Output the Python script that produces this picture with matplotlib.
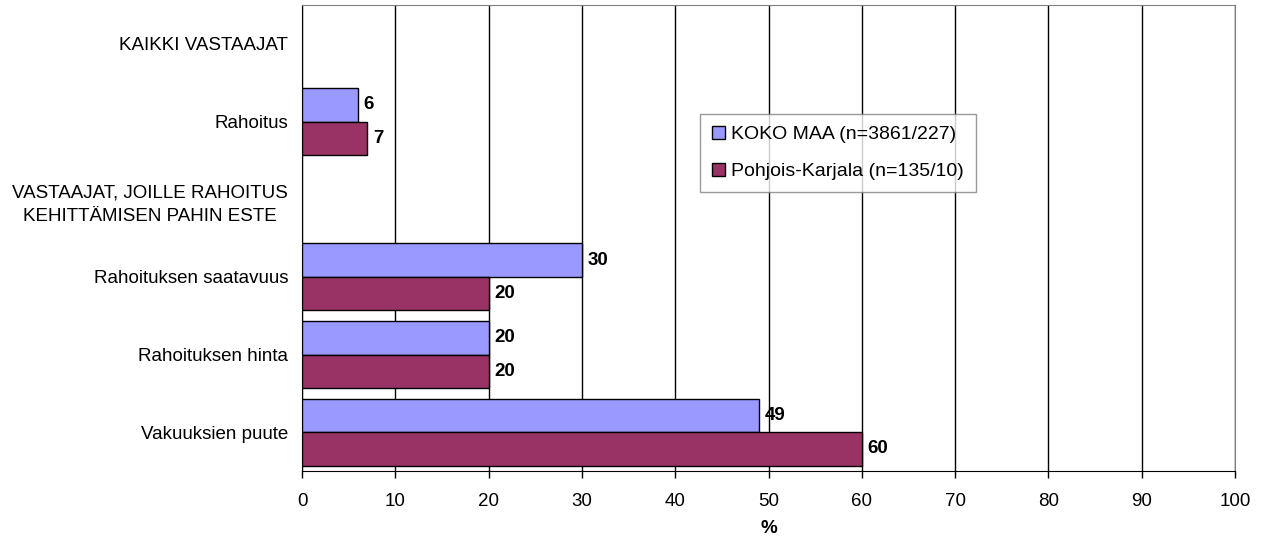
import numpy as np
import matplotlib.pyplot as plt

plt.rcParams['font.family'] = ['Liberation Sans', 'DejaVu Sans']

categories = ["KAIKKI VASTAAJAT", "Rahoitus",
              "VASTAAJAT, JOILLE RAHOITUS\nKEHITTÄMISEN PAHIN ESTE",
              "Rahoituksen saatavuus", "Rahoituksen hinta", "Vakuuksien puute"]
koko_maa = [None, 6, None, 30, 20, 49]
pohjois_karjala = [None, 7, None, 20, 20, 60]
series_names = ["KOKO MAA (n=3861/227)", "Pohjois-Karjala (n=135/10)"]
colors = ["#9999FF", "#993366"]

fs = 13.5
fig = plt.figure(figsize=(12.67, 5.39), dpi=100)
ax = fig.add_axes([302 / 1267, 1 - 471 / 539, 933 / 1267, 466 / 539])

y = np.arange(len(categories))
h = 0.43
for vals, offset, col, name in [(koko_maa, -h / 2, colors[0], series_names[0]),
                                (pohjois_karjala, h / 2, colors[1], series_names[1])]:
    idx = [i for i, v in enumerate(vals) if v is not None]
    v = [vals[i] for i in idx]
    ax.barh(y[idx] + offset, v, height=h, color=col, edgecolor='black',
            linewidth=1, label=name, zorder=3)
    for i, val in zip(idx, v):
        ax.text(val + 0.6, y[i] + offset, str(val), va='center', ha='left',
                fontsize=fs, fontweight='bold', zorder=4)

ax.set_xlim(0, 100)
ax.set_ylim(len(categories) - 0.5, -0.5)
ax.set_xticks(range(0, 101, 10))
ax.set_yticks(y)
ax.set_yticklabels(categories, multialignment='center', linespacing=1.5)
ax.tick_params(axis='y', length=0, pad=10, labelsize=fs)
ax.tick_params(axis='x', length=5, width=1, labelsize=fs, pad=11, direction='out')
ax.xaxis.grid(True, color='black', linewidth=1, zorder=0)
ax.set_xlabel('%', fontsize=fs, fontweight='bold', labelpad=7)

for side in ['top', 'right']:
    ax.spines[side].set_color('#808080')
for side in ['left', 'bottom']:
    ax.spines[side].set_color('black')

leg = ax.legend(loc='upper left', bbox_to_anchor=((700 - 302) / 933, (471 - 114) / 466),
                fontsize=14, frameon=True, fancybox=False, edgecolor='#808080',
                handlelength=0.7, handleheight=0.7, handletextpad=0.3,
                labelspacing=1.0, borderpad=0.6, borderaxespad=0)
leg.get_frame().set_linewidth(1)

fig.savefig('out.png', dpi=100)
